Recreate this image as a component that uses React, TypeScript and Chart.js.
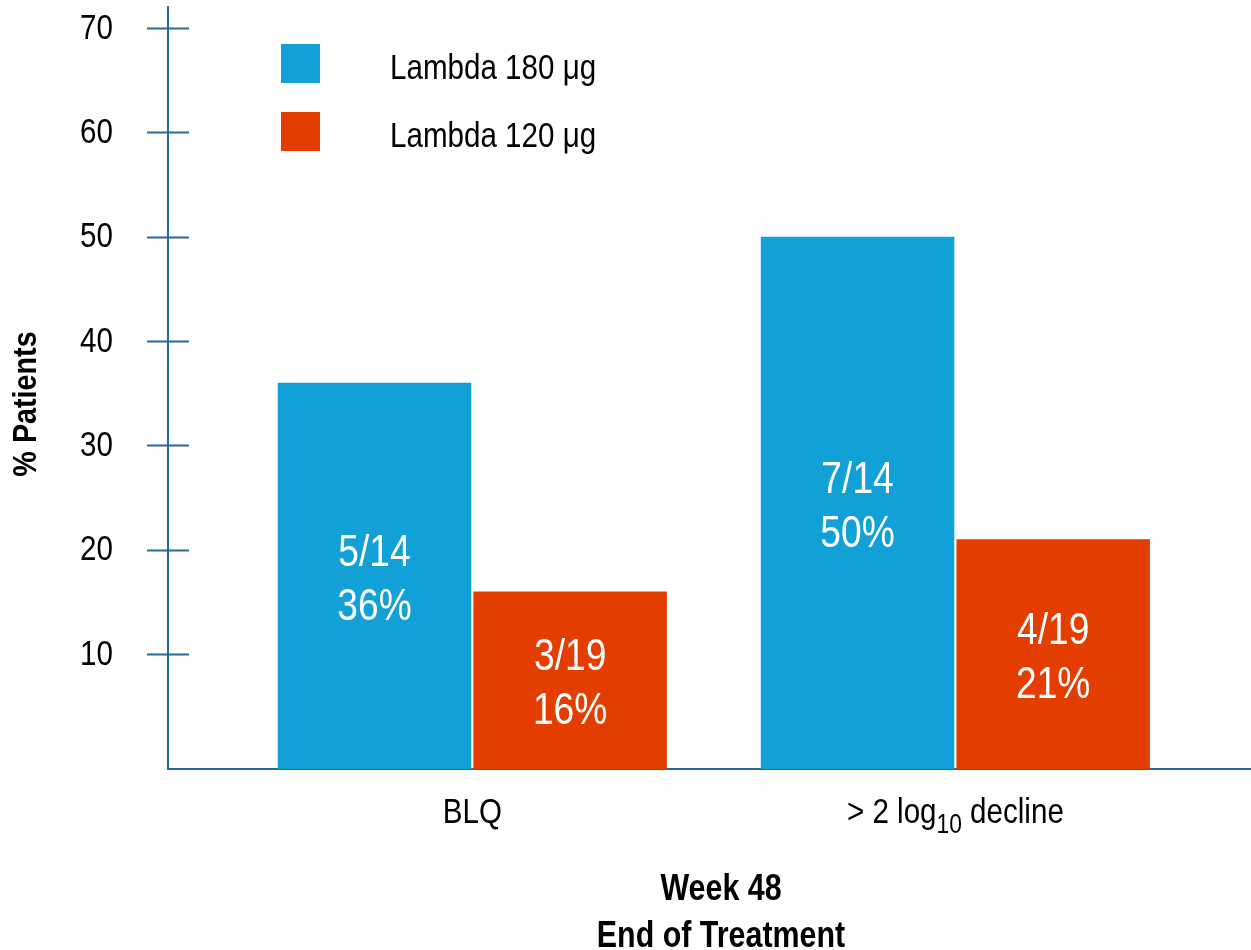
import { useEffect, useRef } from 'react';
import { Chart, registerables } from 'chart.js';

Chart.register(...registerables);

// ---- data ----
const categories = ['BLQ', '> 2 log₁₀ decline'];
const seriesNames = ['Lambda 180 μg', 'Lambda 120 μg'];
const lambda180Pct = [36, 50];
const lambda120Pct = [16, 21];
const lambda180Counts = ['5/14', '7/14'];
const lambda120Counts = ['3/19', '4/19'];
const yTickValues = [10, 20, 30, 40, 50, 60, 70];
const Y_MIN = -1;
const Y_MAX = 72;
const xTitleLines = ['Week 48', 'End of Treatment'];
const yTitle = '% Patients';

// ---- styling ----
const BLUE = '#11a1d6';
const RED = '#e33d00';
const AXIS = '#226b94';
const FAMILY = '"Liberation Sans", Arial, Helvetica, sans-serif';
// Helvetica-Narrow look: regular sans squeezed horizontally
const SQUEEZE = 0.845;

const SUB_DIGITS = '₀₁₂₃₄₅₆₇₈₉';

type TextOpts = {
  size: number;
  bold?: boolean;
  align?: CanvasTextAlign;
  baseline?: CanvasTextBaseline;
  rotate?: number;
};

function drawText(ctx: CanvasRenderingContext2D, text: string, x: number, y: number, o: TextOpts) {
  ctx.save();
  ctx.translate(x, y);
  if (o.rotate) ctx.rotate(o.rotate);
  ctx.scale(SQUEEZE, 1);
  ctx.font = `${o.bold ? 'bold ' : ''}${o.size}px ${FAMILY}`;
  ctx.textAlign = o.align || 'left';
  ctx.textBaseline = o.baseline || 'alphabetic';
  ctx.fillText(text, 0, 0);
  ctx.restore();
}

// Centred text where Unicode subscript digits are drawn as smaller, lowered digits.
function drawRichText(ctx: CanvasRenderingContext2D, text: string, cx: number, baseline: number, size: number) {
  const runs: { sub: boolean; text: string }[] = [];
  for (const ch of text) {
    const idx = SUB_DIGITS.indexOf(ch);
    const sub = idx >= 0;
    const c = sub ? String(idx) : ch;
    const last = runs[runs.length - 1];
    if (last && last.sub === sub) last.text += c;
    else runs.push({ sub, text: c });
  }
  const subSize = Math.round(size * 0.77);
  const fontFor = (sub: boolean) => `${sub ? subSize : size}px ${FAMILY}`;
  ctx.save();
  let total = 0;
  const widths = runs.map((r) => {
    ctx.font = fontFor(r.sub);
    const w = ctx.measureText(r.text).width;
    total += w;
    return w;
  });
  ctx.translate(cx, baseline);
  ctx.scale(SQUEEZE, 1);
  let x = -total / 2;
  ctx.textAlign = 'left';
  ctx.textBaseline = 'alphabetic';
  runs.forEach((r, i) => {
    ctx.font = fontFor(r.sub);
    ctx.fillText(r.text, x, r.sub ? Math.round(size * 0.29) : 0);
    x += widths[i];
  });
  ctx.restore();
}

const decorations = {
  id: 'decorations',
  afterDatasetsDraw(chart: any) {
    const { ctx, chartArea } = chart;
    const xs = chart.scales.x;
    const ys = chart.scales.y;
    ctx.save();

    // cross-shaped tick marks and labels on the value axis
    ctx.strokeStyle = AXIS;
    ctx.lineWidth = 2;
    ctx.fillStyle = '#000000';
    ys.ticks.forEach((t: any) => {
      const py = ys.getPixelForValue(t.value);
      const ly = Math.round(py) + 0.5;
      ctx.beginPath();
      ctx.moveTo(chartArea.left - 21, ly);
      ctx.lineTo(chartArea.left + 21, ly);
      ctx.stroke();
      drawText(ctx, String(t.value), chartArea.left - 55, py + 1, { size: 35, align: 'right', baseline: 'middle' });
    });

    // counts and percentages inside the bars
    const countSets = [lambda180Counts, lambda120Counts];
    const pctSets = [lambda180Pct, lambda120Pct];
    ctx.fillStyle = '#ffffff';
    chart.data.datasets.forEach((_: any, di: number) => {
      const meta = chart.getDatasetMeta(di);
      meta.data.forEach((bar: any, i: number) => {
        const mid = (bar.y + bar.base) / 2;
        drawText(ctx, countSets[di][i], bar.x, mid - 10, { size: 44, align: 'center' });
        drawText(ctx, `${pctSets[di][i]}%`, bar.x, mid + 44, { size: 44, align: 'center' });
      });
    });

    // category labels
    ctx.fillStyle = '#000000';
    categories.forEach((label, i) => {
      drawRichText(ctx, label, xs.getPixelForValue(i), chartArea.bottom + 54, 35);
    });

    // axis titles
    const titleX = chartArea.left + 553;
    xTitleLines.forEach((line, i) => {
      drawText(ctx, line, titleX, chartArea.bottom + 131 + i * 47, { size: 36, bold: true, align: 'center' });
    });
    drawText(ctx, yTitle, 27, chartArea.top + 397, {
      size: 34,
      bold: true,
      align: 'center',
      baseline: 'middle',
      rotate: -Math.PI / 2,
    });

    // legend
    const colors = [BLUE, RED];
    seriesNames.forEach((name, i) => {
      const top = chartArea.top + 37 + i * 68;
      const left = chartArea.left + 113;
      ctx.fillStyle = colors[i];
      ctx.fillRect(left, top, 39, 39);
      ctx.fillStyle = '#000000';
      drawText(ctx, name, left + 109, top + 35, { size: 35 });
    });

    ctx.restore();
  },
};

export default function App() {
  const canvasRef = useRef<HTMLCanvasElement | null>(null);

  useEffect(() => {
    const canvas = canvasRef.current;
    if (!canvas) return;
    const chart = new Chart(canvas, {
      type: 'bar',
      data: {
        datasets: [
          {
            label: seriesNames[0],
            data: lambda180Pct.map((v, i) => ({ x: i, y: v })),
            backgroundColor: BLUE,
            borderWidth: 0,
            base: Y_MIN,
          },
          {
            label: seriesNames[1],
            data: lambda120Pct.map((v, i) => ({ x: i, y: v })),
            backgroundColor: RED,
            borderWidth: 0,
            base: Y_MIN,
          },
        ] as any,
      },
      options: {
        animation: false,
        responsive: false,
        maintainAspectRatio: false,
        layout: { padding: { top: 7, left: 0, right: 0, bottom: 0 } },
        datasets: { bar: { categoryPercentage: 0.81, barPercentage: 0.989 } },
        plugins: {
          legend: { display: false },
          tooltip: { enabled: false },
        },
        scales: {
          x: {
            type: 'linear',
            offset: false,
            min: -0.63,
            max: 1.612,
            grid: { display: false, drawTicks: false },
            border: { display: true, color: AXIS, width: 2 },
            ticks: { display: false },
            afterBuildTicks: (s: any) => {
              s.ticks = categories.map((_, i) => ({ value: i }));
            },
            afterFit: (s: any) => {
              s.height = 181;
              s.paddingLeft = 0;
              s.paddingRight = 0;
            },
          },
          y: {
            type: 'linear',
            min: Y_MIN,
            max: Y_MAX,
            grid: { display: false, drawTicks: false },
            border: { display: true, color: AXIS, width: 2 },
            ticks: { display: false },
            afterBuildTicks: (s: any) => {
              s.ticks = yTickValues.map((v) => ({ value: v }));
            },
            afterFit: (s: any) => {
              s.width = 168;
              s.paddingTop = 0;
              s.paddingBottom = 0;
            },
          },
        },
      } as any,
      plugins: [decorations],
    });
    return () => chart.destroy();
  }, []);

  return (
    <div style={{ position: 'fixed', left: 0, top: 0, width: 1251, height: 950, background: '#ffffff' }}>
      <canvas ref={canvasRef} width={1251} height={950} />
    </div>
  );
}
